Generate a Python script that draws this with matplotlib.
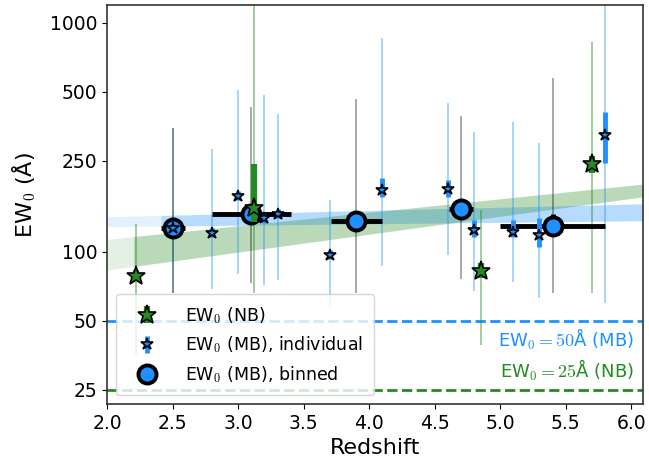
import matplotlib
matplotlib.use('Agg')
import matplotlib.pyplot as plt
import numpy as np
from matplotlib.ticker import FixedLocator, NullLocator, FixedFormatter

plt.rcParams['font.family'] = 'DejaVu Sans'
plt.rcParams['mathtext.fontset'] = 'cm'

# MB individual objects
z_mb = [2.50, 2.80, 3.00, 3.20, 3.30, 3.70, 4.10, 4.60, 4.80, 5.10, 5.30, 5.80]
ew_mb = [127, 121, 176, 140, 147, 97, 186, 188, 125, 122, 118, 324]
ew_mb_lo = [121, 116, 168, 134, 141, 93, 174, 174, 116.5, 116, 105, 244]
ew_mb_hi = [133, 127, 185, 147, 154, 102, 211, 206, 138, 138, 140, 409]
ew_mb_lo2 = [66, 69, 80, 72, 75.5, 57.7, 87, 97, 67.5, 74, 63, 60]
ew_mb_hi2 = [348, 281, 508, 484, 398, 168.5, 855, 445, 332, 368, 299, 2000]

# NB objects
z_nb = [2.22, 3.12, 4.85, 5.70]
ew_nb = [78.6, 155, 82.9, 241]
ew_nb_lo = [74.5, 135.5, 77, 220]
ew_nb_hi = [83, 241, 89, 262]
ew_nb_lo2 = [35.5, 66, 39.3, 66]
ew_nb_hi2 = [132, 2000, 152, 820]

# MB binned
z_bin = [2.50, 3.10, 3.90, 4.70, 5.40]
z_bin_lo = [2.41, 2.80, 3.71, 4.61, 5.00]
z_bin_hi = [2.59, 3.40, 4.10, 4.79, 5.80]
ew_bin = [127, 146, 137, 153.5, 130]
ew_bin_lo = [115, 132, 124, 139, 118]
ew_bin_hi = [140, 161, 151, 169, 147]
ew_bin_lo2 = [66, 73.5, 66, 76, 66]
ew_bin_hi2 = [348, 427, 466, 393, 572]

# trend bands (edges read at the axis limits)
band_z = [2.0, 6.09]
mb_band_lo = [128.8, 136.8]
mb_band_hi = [142.4, 162.0]
nb_band_lo = [83.4, 174.0]
nb_band_hi = [113.5, 197.6]

blue = '#1e90ff'
green = 'forestgreen'


def asym(v, lo, hi):
    v = np.array(v)
    return [v - np.array(lo), np.array(hi) - v]


fig = plt.figure(figsize=(6.49, 4.68), dpi=100)
ax = fig.add_axes([0.1653, 0.1368, 0.8254, 0.8526])
ax.set_yscale('log')

# bands: faint over the full range, stronger over the data range
ax.fill_between(band_z, mb_band_lo, mb_band_hi, color=blue, alpha=0.12, lw=0, zorder=1)
ax.fill_between(band_z, nb_band_lo, nb_band_hi, color=green, alpha=0.12, lw=0, zorder=1)

def sub_band(z0, lo, hi):
    zz = [z0, band_z[1]]
    f = (z0 - band_z[0]) / (band_z[1] - band_z[0])
    l0 = np.exp(np.log(lo[0]) + f * (np.log(lo[1]) - np.log(lo[0])))
    h0 = np.exp(np.log(hi[0]) + f * (np.log(hi[1]) - np.log(hi[0])))
    return zz, [l0, lo[1]], [h0, hi[1]]

zz, l, h = sub_band(2.41, mb_band_lo, mb_band_hi)
ax.fill_between(zz, l, h, color=blue, alpha=0.22, lw=0, zorder=1)
zz, l, h = sub_band(2.20, nb_band_lo, nb_band_hi)
ax.fill_between(zz, l, h, color=green, alpha=0.22, lw=0, zorder=1)

# limits lines
ax.axhline(50, color=blue, ls='--', lw=2, zorder=1.5)
ax.axhline(25, color=green, ls='--', lw=2, zorder=1.5)
ax.text(6.02, 47, 'EW$_0=50$Å (MB)', color=blue, ha='right', va='top', fontsize=13)
ax.text(6.02, 26.8, 'EW$_0=25$Å (NB)', color=green, ha='right', va='bottom', fontsize=13)

# thin error bars
ax.errorbar(z_mb, ew_mb, yerr=asym(ew_mb, ew_mb_lo2, ew_mb_hi2), fmt='none',
            ecolor=blue, alpha=0.45, elinewidth=1.2, zorder=2)
ax.errorbar(z_nb, ew_nb, yerr=asym(ew_nb, ew_nb_lo2, ew_nb_hi2), fmt='none',
            ecolor=green, alpha=0.5, elinewidth=1.2, zorder=2)
ax.errorbar(z_bin, ew_bin, yerr=asym(ew_bin, ew_bin_lo2, ew_bin_hi2), fmt='none',
            ecolor='k', alpha=0.4, elinewidth=1.2, zorder=2)

# binned points
ax.errorbar(z_bin, ew_bin, xerr=asym(z_bin, z_bin_lo, z_bin_hi),
            yerr=asym(ew_bin, ew_bin_lo, ew_bin_hi), fmt='none',
            ecolor='k', elinewidth=3.5, zorder=3)
ax.plot(z_bin, ew_bin, 'o', ms=13, mfc=blue, mec='k', mew=2.8, zorder=3.5,
        label='EW$_0$ (MB), binned')

# individual points
nb = ax.errorbar(z_nb, ew_nb, yerr=asym(ew_nb, ew_nb_lo, ew_nb_hi), fmt='*',
                 ms=14, mfc=green, mec='k', mew=1.2, ecolor=green, elinewidth=4.5,
                 zorder=4, label='EW$_0$ (NB)')
mb = ax.errorbar(z_mb, ew_mb, yerr=asym(ew_mb, ew_mb_lo, ew_mb_hi), fmt='*',
                 ms=9, mfc=blue, mec='k', mew=1.2, ecolor=blue, elinewidth=3.5,
                 zorder=4, label='EW$_0$ (MB), individual')

ax.set_xlim(2.0, 6.09)
ax.set_ylim(21.7, 1195)
ax.yaxis.set_major_locator(FixedLocator([25, 50, 100, 250, 500, 1000]))
ax.yaxis.set_major_formatter(FixedFormatter(['25', '50', '100', '250', '500', '1000']))
ax.yaxis.set_minor_locator(NullLocator())
ax.set_xticks([2.0, 2.5, 3.0, 3.5, 4.0, 4.5, 5.0, 5.5, 6.0])
ax.tick_params(labelsize=13.5)
for s in ax.spines.values():
    s.set_linewidth(1.2)
    s.set_color('#333333')

ax.set_xlabel('Redshift', fontsize=16)
ax.set_ylabel('EW$_0$ (Å)', fontsize=16)
ax.yaxis.set_label_coords(-0.13, 0.524)

handles, labels = ax.get_legend_handles_labels()
order = [labels.index('EW$_0$ (NB)'), labels.index('EW$_0$ (MB), individual'),
         labels.index('EW$_0$ (MB), binned')]
ax.legend([handles[i] for i in order], [labels[i] for i in order],
          loc='lower left', fontsize=12.5, framealpha=0.8, handlelength=2.4,
          handletextpad=1.0, borderpad=0.6)

fig.savefig('out.png', dpi=100)
